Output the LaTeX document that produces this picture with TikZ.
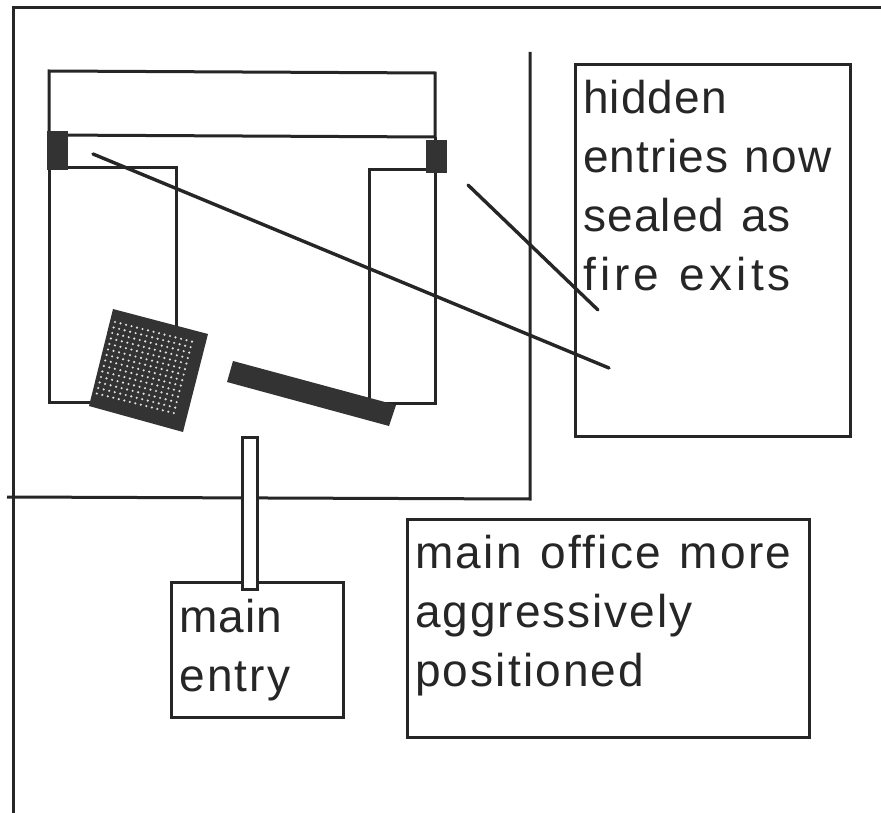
\documentclass[tikz,border=0pt]{standalone}
\usepackage{fontspec}
\setmainfont[LetterSpace=2.5,WordSpace=1.2]{Liberation Sans}
\newcommand{\lsp}[2]{{\addfontfeature{LetterSpace=#1}#2}}
\definecolor{ink}{HTML}{262626}
\definecolor{dark}{HTML}{333333}
\tikzset{
  ln/.style={draw=ink,line width=3pt,line join=miter},
  diag/.style={draw=ink,line width=3.4pt,line cap=round},
  box/.style={draw=ink,line width=3pt,fill=white,outer sep=0pt,inner sep=0pt,anchor=north west},
  lab/.style={font=\fontsize{46}{59}\selectfont,text=ink,align=left,anchor=north west,inner sep=0pt},
  block/.style={fill=dark,draw=none}
}
\begin{document}
\begin{tikzpicture}[x=1pt,y=-1pt]
\useasboundingbox (0,0) rectangle (881,813);
\fill[white] (0,0) rectangle (881,813);
\coordinate (ftl) at (13,813); \coordinate (ftc) at (13,8); \coordinate (ftr) at (881,8);
\draw[ln] (ftl) -- (ftc) -- (ftr);
\coordinate (wa) at (530,52); \coordinate (wb) at (530,499); \coordinate (wc) at (7,497);
\draw[ln] (wa) -- (wb) -- (wc);
\draw[ln] (49,71) -- (435,73) -- (435,137) -- (49,135) -- cycle;
\draw[ln] (49,135) -- (49,402) -- (100,402);
\draw[ln] (49,168) -- (176,168) -- (176,330);
\draw[ln] (435,137) -- (435,403) -- (369,403) -- (369,170) -- (435,170);
\fill[block] (47,131) rectangle (68,170);
\fill[block] (426,140) rectangle (447,173);
\fill[block] (113,309) -- (208,334) -- (183,432) -- (89,406) -- cycle;
\foreach \i in {0,...,14}{\foreach \j in {0,...,13}{
  \fill[white!88!black] ({115+\i*5.5-\j*1.4},{322+\i*1.4+\j*5.5}) circle (1.2);}}
\fill[block] (233,361) -- (396,405) -- (389,426) -- (227,382) -- cycle;
\node[box,minimum width=275pt,minimum height=371pt] (hid) at (575,65) {};
\node[lab] (hidt) at (583,80) {hidden\\entries now\\sealed as\\\lsp{9}{fire exits}};
\node[box,minimum width=402pt,minimum height=218pt] (off) at (407,519) {};
\node[lab] (offt) at (415,535) {\lsp{5.2}{main office more}\\\lsp{4.3}{aggressively}\\\lsp{4.7}{positioned}};
\node[box,minimum width=172pt,minimum height=135pt] (ent) at (171,582) {};
\node[lab] (entt) at (179,599) {main\\\lsp{5}{entry}};
\node[box,minimum width=15pt,minimum height=152pt] (stem) at (242,437) {};
\coordinate (la) at (93,154); \coordinate (lb) at (609,368);
\coordinate (lc) at (468,185); \coordinate (ld) at (598,310);
\draw[diag] (la) -- (lb);
\draw[diag] (lc) -- (ld);
\end{tikzpicture}
\end{document}
